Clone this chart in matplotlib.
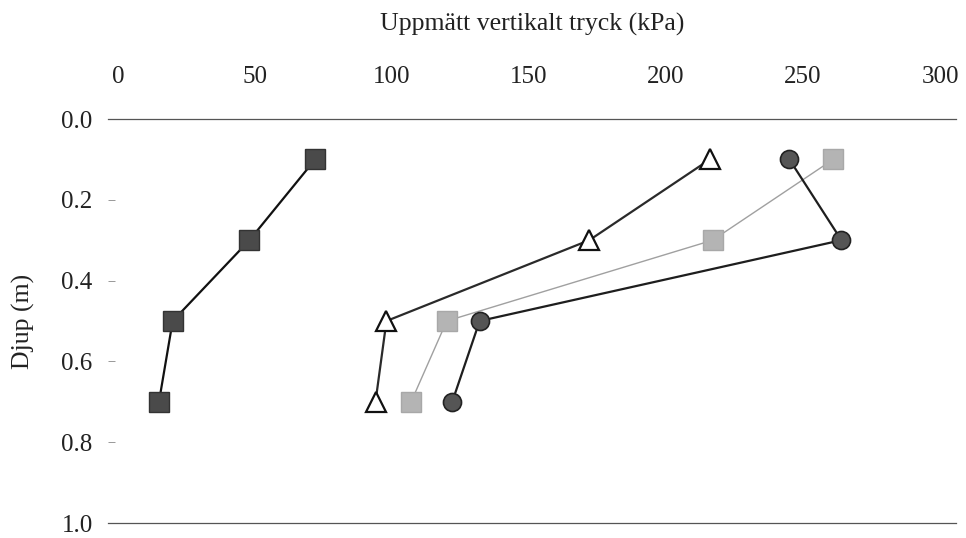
import numpy as np
import matplotlib.pyplot as plt

depth = [0.1, 0.3, 0.5, 0.7]
series_a = [72, 48, 20, 15]      # dark squares
series_b = [216, 172, 98, 94]    # open triangles
series_c = [261, 217, 120, 107]  # light grey squares
series_d = [245, 264, 132, 122]  # dark circles

x_ticks = [0, 50, 100, 150, 200, 250, 300]
y_ticks = [0.0, 0.2, 0.4, 0.6, 0.8, 1.0]

plt.rcParams['font.family'] = ['Liberation Serif', 'DejaVu Serif']

fig = plt.figure(figsize=(9.66, 5.38), dpi=100)
ax = fig.add_axes([108 / 966, 1 - 523 / 538, 848 / 966, 404 / 538])

ax.plot(series_c, depth, color='#a0a0a0', lw=1.0, marker='s', ms=14,
        mfc='#b4b4b4', mec='#a8a8a8', zorder=3)
ax.plot(series_d, depth, color='#1e1e1e', lw=1.6, marker='o', ms=13,
        mfc='#555555', mec='#222222', mew=1.2, zorder=4)
ax.plot(series_b, depth, color='#2a2a2a', lw=1.6, marker='^', ms=14,
        mfc='white', mec='#111111', mew=1.6, zorder=4)
ax.plot(series_a, depth, color='#111111', lw=1.6, marker='s', ms=14,
        mfc='#4a4a4a', mec='#333333', zorder=4)

ax.set_xlim(-3.6, 305.8)
ax.set_ylim(1.0, 0.0)
ax.set_xticks(x_ticks)
ax.set_yticks(y_ticks)
ax.set_yticklabels([f'{v:.1f}' for v in y_ticks])

ax.xaxis.tick_top()
ax.tick_params(axis='x', length=0, pad=22, labelsize=18, colors='#222222')
ax.tick_params(axis='y', direction='in', length=5, width=0.6, color='#888888',
               pad=11, labelsize=18, labelcolor='#222222')

for side in ['left', 'right']:
    ax.spines[side].set_visible(False)
for side in ['top', 'bottom']:
    ax.spines[side].set_color('#555555')
    ax.spines[side].set_linewidth(0.9)

fig.text(532 / 966, 1 - 24 / 538, 'Uppmätt vertikalt tryck (kPa)',
         ha='center', va='center', fontsize=18.5, color='#222222')
fig.text(23 / 966, 1 - 321 / 538, 'Djup (m)', rotation=90,
         ha='center', va='center', fontsize=18.5, color='#222222')

fig.savefig('out.png', dpi=100)
